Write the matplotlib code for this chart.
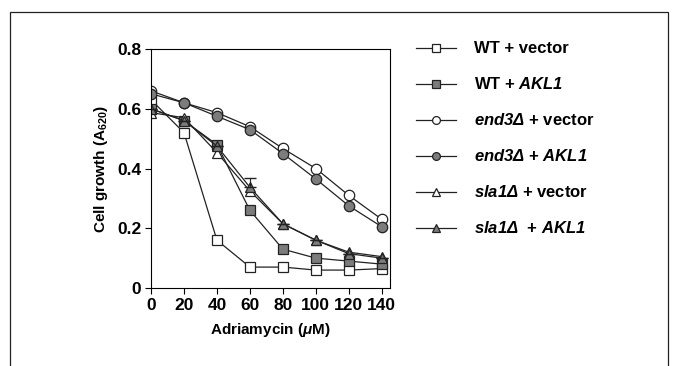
import matplotlib
matplotlib.use("Agg")
import matplotlib.pyplot as plt
from matplotlib.patches import Rectangle

plt.rcParams['font.family'] = ['Liberation Sans', 'DejaVu Sans']
plt.rcParams['font.weight'] = 'bold'
plt.rcParams['mathtext.fontset'] = 'custom'
# math text is only used for the italic gene names, so rm is italic too
# (mathtext sends digits and capital Greek to rm)
plt.rcParams['mathtext.rm'] = 'Liberation Sans:italic:bold'
plt.rcParams['mathtext.it'] = 'Liberation Sans:italic:bold'
plt.rcParams['mathtext.bf'] = 'Liberation Sans:bold'

# Adriamycin dose (uM)
dose = [0, 20, 40, 60, 80, 100, 120, 140]

wt_vector = [0.63, 0.52, 0.16, 0.07, 0.07, 0.06, 0.06, 0.065]
wt_akl1 = [0.60, 0.56, 0.48, 0.26, 0.13, 0.10, 0.09, 0.08]
end3_vector = [0.66, 0.62, 0.587, 0.54, 0.467, 0.40, 0.31, 0.23]
end3_akl1 = [0.65, 0.62, 0.575, 0.53, 0.45, 0.365, 0.275, 0.205]
sla1_vector = [0.587, 0.57, 0.453, 0.325, 0.215, 0.16, 0.12, 0.105]
sla1_akl1 = [0.60, 0.56, 0.475, 0.337, 0.215, 0.16, 0.115, 0.10]
sla1_akl1_err = [0, 0, 0, 0.03, 0, 0, 0, 0]

labels = [
    "WT + vector",
    r"WT + $\mathit{AKL1}$",
    r"$\mathit{end3Δ}$ + vector",
    r"$\mathit{end3Δ}$ + $\mathit{AKL1}$",
    r"$\mathit{sla1Δ}$ + vector",
    r"$\mathit{sla1Δ}$  + $\mathit{AKL1}$",
]

fig = plt.figure(figsize=(6.73, 3.66), dpi=100)
ax = fig.add_axes([0.2244, 0.2131, 0.3551, 0.6530])

gray = "#7c7c7c"
lw = 0.9
ms = 7.5
series = [
    (wt_vector, "s", "white"),
    (wt_akl1, "s", gray),
    (end3_vector, "o", "white"),
    (end3_akl1, "o", gray),
    (sla1_vector, "^", "white"),
    (sla1_akl1, "^", gray),
]
for (vals, mk, fc), lab in zip(series, labels):
    ax.plot(dose, vals, marker=mk, color="#222222", lw=lw, ms=ms,
            mfc=fc, mec="#222222", mew=0.9, label=lab)

ax.errorbar(dose, sla1_akl1, yerr=[[0] * len(dose), sla1_akl1_err],
            fmt="none", ecolor="#222222", elinewidth=0.8, capsize=4)

ax.set_xlim(0, 145)
ax.set_ylim(0, 0.8)
ax.set_xticks(dose)
ax.set_yticks([0, 0.2, 0.4, 0.6, 0.8])
ax.set_yticklabels(["0", "0.2", "0.4", "0.6", "0.8"])
ax.tick_params(direction="out", length=4, width=0.8, labelsize=12.5, pad=3)
for lbl in ax.get_xticklabels() + ax.get_yticklabels():
    lbl.set_fontweight("bold")
for sp in ax.spines.values():
    sp.set_linewidth(0.8)

ax.set_xlabel("Adriamycin (" + r"$μ$" + "M)", fontsize=11, fontweight="bold", labelpad=6)
ax.set_ylabel(r"Cell growth (A$_{\mathbf{620}}$)", fontsize=11, fontweight="bold", labelpad=5)

leg = ax.legend(loc="upper left", bbox_to_anchor=(0.618, 0.887),
                bbox_transform=fig.transFigure, frameon=False, fontsize=12,
                handlelength=2.4, handletextpad=1.1, labelspacing=1.2,
                borderaxespad=0, borderpad=0, markerscale=0.75)

# outer panel frame
fig.patches.append(Rectangle((10 / 673, -0.05), 658 / 673, 1 - 12 / 366 + 0.05,
                             transform=fig.transFigure, fill=False,
                             edgecolor="#222222", lw=0.9))

fig.savefig("out.png", dpi=100)
